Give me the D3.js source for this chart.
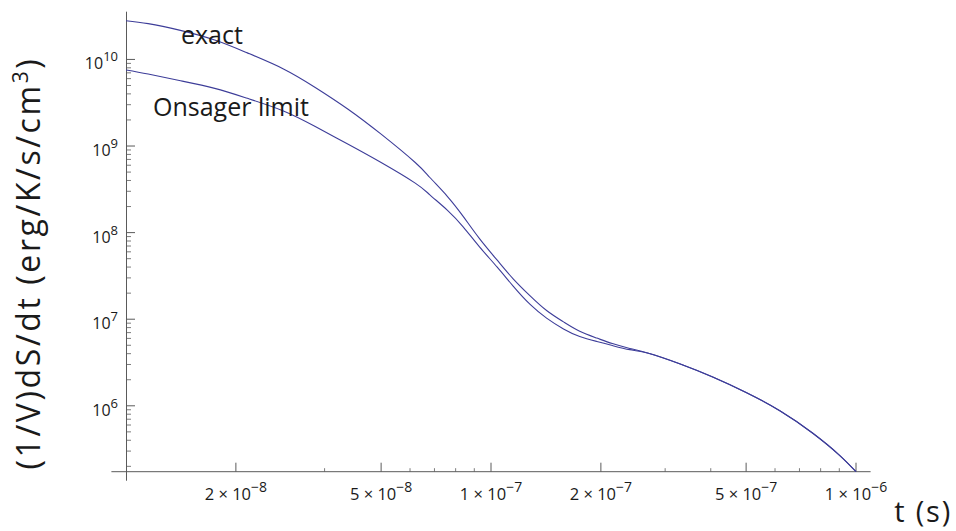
<!DOCTYPE html>
<html><head><meta charset="utf-8">
<script src="https://cdn.jsdelivr.net/npm/d3@7"></script>
<style>
body{margin:0;background:#fff}
svg{display:block}
text{font-family:"Open Sans",sans-serif;fill:#1a1a1a}
</style>
</head><body>
<svg id="chart" width="956" height="531"></svg>
<script>
// ---- data ----
const times = [1.0e-8, 1.15e-8, 1.4e-8, 1.75e-8, 2.15e-8, 2.7e-8, 3.3e-8, 4.05e-8, 5.0e-8, 6.2e-8,
  6.8e-8, 7.6e-8, 8.4e-8, 9.3e-8, 1.04e-7, 1.15e-7, 1.28e-7, 1.42e-7, 1.58e-7, 1.75e-7,
  1.95e-7, 2.15e-7, 2.4e-7, 2.7e-7, 3.3e-7, 4.05e-7, 5.0e-7, 6.2e-7, 7.6e-7, 9.0e-7, 1.0e-6];
const exactValues = [2.80e10, 2.59e10, 2.18e10, 1.675e10, 1.19e10, 7.77e9, 4.75e9, 2.68e9, 1.37e9, 6.45e8,
  4.33e8, 2.61e8, 1.53e8, 8.52e7, 4.80e7, 2.93e7, 1.86e7, 1.26e7, 9.31e6, 7.25e6,
  6.05e6, 5.23e6, 4.60e6, 4.05e6, 3.04e6, 2.15e6, 1.424e6, 8.71e5, 4.85e5, 2.70e5, 1.734e5];
const onsagerValues = [7.55e9, 6.78e9, 5.71e9, 4.63e9, 3.555e9, 2.54e9, 1.68e9, 1.055e9, 6.45e8, 3.73e8,
  2.73e8, 1.81e8, 1.16e8, 6.85e7, 3.99e7, 2.41e7, 1.48e7, 1.03e7, 7.72e6, 6.31e6,
  5.53e6, 4.97e6, 4.45e6, 4.04e6, 3.04e6, 2.15e6, 1.424e6, 8.71e5, 4.85e5, 2.70e5, 1.734e5];
const seriesNames = ["exact", "Onsager limit"];

const xMajorTicks = [2e-8, 5e-8, 1e-7, 2e-7, 5e-7, 1e-6];
const xTickMantissas = ["2", "5", "1", "2", "5", "1"];
const xTickExponents = ["\u22128", "\u22128", "\u22127", "\u22127", "\u22127", "\u22126"];
const xMinorTicks = [3.5e-8, 6e-8, 7e-8, 8e-8, 9e-8, 3e-7, 4e-7, 6e-7, 7e-7, 8e-7, 9e-7];
const yMajorTicks = [1e6, 1e7, 1e8, 1e9, 1e10];
const yTickExponents = ["6", "7", "8", "9", "10"];
const yMinorMantissas = [2, 3, 4, 5, 6, 7, 8, 9];
const yMinorDecades = [1e5, 1e6, 1e7, 1e8, 1e9];
const xDomain = [1e-8, 1e-6];

// ---- layout ----
const L = 126, R = 856, T = 20.7, B = 471.7;
const padX = 0.02 * (R - L), padY = 0.02 * (B - T);
const lineColor = "#3d3d99", axisColor = "#5a5a5a";

const svg = d3.select("#chart");
const x = d3.scaleLog().domain(xDomain).range([L, R]);
const allVals = exactValues.concat(onsagerValues);
const y = d3.scaleLog().domain(d3.extent(allVals)).range([B, T]);

const x0 = x(xDomain[0]), y0 = y(d3.min(allVals));

// axes lines
svg.append("line").attr("x1", x0 + 0.5).attr("x2", x0 + 0.5)
  .attr("y1", T - padY).attr("y2", B + padY)
  .attr("stroke", axisColor).attr("stroke-width", 1);
svg.append("line").attr("x1", L - padX).attr("x2", R + padX)
  .attr("y1", y0).attr("y2", y0)
  .attr("stroke", axisColor).attr("stroke-width", 1);

// y ticks
const yMinor = [];
yMinorDecades.forEach(d => yMinorMantissas.forEach(m => {
  const v = m * d;
  if (v >= y.domain()[0] && v <= 1e10) yMinor.push(v);
}));
svg.selectAll(".ymin").data(yMinor).enter().append("line")
  .attr("x1", x0 + 0.5).attr("x2", x0 + 5)
  .attr("y1", d => y(d)).attr("y2", d => y(d))
  .attr("stroke", axisColor).attr("stroke-width", 0.8);
svg.selectAll(".ymaj").data(yMajorTicks).enter().append("line")
  .attr("x1", x0 + 0.5).attr("x2", x0 + 9)
  .attr("y1", d => y(d)).attr("y2", d => y(d))
  .attr("stroke", axisColor).attr("stroke-width", 1);
const yl = svg.selectAll(".ylab").data(yMajorTicks).enter().append("text")
  .attr("x", x0 - 8).attr("y", d => y(d) + 10)
  .attr("text-anchor", "end").style("font-size", "16px");
yl.append("tspan").text("10");
yl.append("tspan").attr("dy", -8).style("font-size", "13px").text((d, i) => yTickExponents[i]);

// x ticks
svg.selectAll(".xmin").data(xMinorTicks).enter().append("line")
  .attr("x1", d => x(d)).attr("x2", d => x(d))
  .attr("y1", y0).attr("y2", y0 - 3.5)
  .attr("stroke", axisColor).attr("stroke-width", 0.8);
svg.selectAll(".xmaj").data(xMajorTicks).enter().append("line")
  .attr("x1", d => x(d)).attr("x2", d => x(d))
  .attr("y1", y0).attr("y2", y0 - 9)
  .attr("stroke", axisColor).attr("stroke-width", 1);
const xl = svg.selectAll(".xlab").data(xMajorTicks).enter().append("text")
  .attr("x", d => x(d)).attr("y", 500)
  .attr("text-anchor", "middle").style("font-size", "16.5px");
xl.append("tspan").text((d, i) => xTickMantissas[i] + " \u00D7 10");
xl.append("tspan").attr("dy", -8).style("font-size", "14px").text((d, i) => xTickExponents[i]);

// curves
const line = d3.line().x(d => x(d[0])).y(d => y(d[1])).curve(d3.curveNatural);
[exactValues, onsagerValues].forEach(vals => {
  svg.append("path").datum(times.map((t, i) => [t, vals[i]]))
    .attr("d", line).attr("fill", "none")
    .attr("stroke", lineColor).attr("stroke-width", 1.1);
});

// curve labels
svg.append("text").attr("x", 181).attr("y", 43.5).style("font-size", "25px").text(seriesNames[0]);
svg.append("text").attr("x", 153).attr("y", 115.5).style("font-size", "25px").text(seriesNames[1]);

// axis labels
svg.append("text").attr("x", 952).attr("y", 522).attr("text-anchor", "end")
  .style("font-size", "29px").style("letter-spacing", "1.8px").text("t (s)");
const yt = svg.append("text").attr("transform", "translate(40,263) rotate(-90)")
  .attr("text-anchor", "middle").style("font-size", "32px").style("letter-spacing", "2.6px");
yt.append("tspan").text("(1/V)dS/dt (erg/K/s/cm");
yt.append("tspan").attr("dy", -12).style("font-size", "21px").text("3");
yt.append("tspan").attr("dy", 12).text(")");
</script>
</body></html>
